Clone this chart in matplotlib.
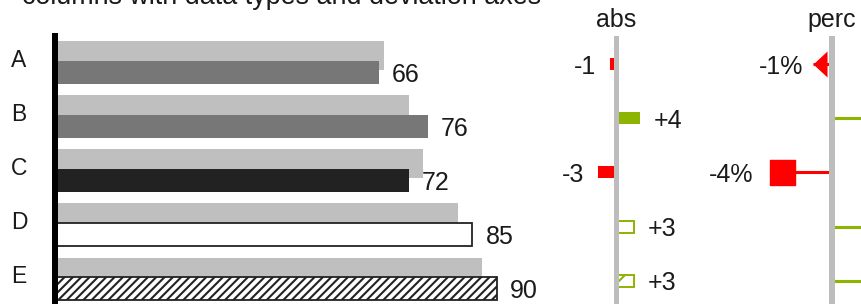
import matplotlib
matplotlib.use('Agg')
import matplotlib.pyplot as plt
import numpy as np
from matplotlib import transforms

categories = ['A', 'B', 'C', 'D', 'E']
previous = [67, 72, 75, 82, 87]
current = [66, 76, 72, 85, 90]
kinds = ['actual', 'actual', 'highlight', 'plan', 'forecast']
title = 'columns with data types and deviation axes'

plt.rcParams['font.family'] = ['Liberation Sans', 'DejaVu Sans']
plt.rcParams['hatch.linewidth'] = 1.5

W, H, DPI = 862, 304, 100
ROW_TOP, ROW_PITCH = 40.7, 54.2   # pixel layout of the rows
AX_TOP = 36
PT = 72.0 / DPI                   # points per pixel

GRAY_PREV = '#bfbfbf'
AXIS_GRAY = '#bdbdbd'
RED = '#ff0000'
GREEN = '#8cb400'
TEXT = '#1a1a1a'

main_style = {
    'actual': dict(color='#777777'),
    'highlight': dict(color='#222222'),
    'plan': dict(facecolor='white', edgecolor='#222222', linewidth=1.3),
    'forecast': dict(facecolor='white', edgecolor='#222222', linewidth=1.3, hatch='////'),
}


def dev_style(kind, color, hatch='/'):
    if kind == 'plan':
        return dict(facecolor='white', edgecolor=color, linewidth=1.4)
    if kind == 'forecast':
        return dict(facecolor='white', edgecolor=color, linewidth=1.4, hatch=hatch)
    return dict(color=color)


def py(p):
    return (p - ROW_TOP) / ROW_PITCH


fig = plt.figure(figsize=(W / DPI, H / DPI), dpi=DPI)
ax_h = (H - AX_TOP) / H


def make_ax(left_px, right_px, zero_px, px_per_unit):
    ax = fig.add_axes([left_px / W, 0, (right_px - left_px) / W, ax_h])
    ax.set_xlim((left_px - zero_px) / px_per_unit, (right_px - zero_px) / px_per_unit)
    ax.set_ylim(py(H), py(AX_TOP))
    ax.set_axis_off()
    return ax


y = np.arange(len(categories))
prev = np.array(previous, dtype=float)
cur = np.array(current, dtype=float)
dev = cur - prev
pct = dev / prev * 100

fig.text(22 / W, 1 - 4.5 / H, title, fontsize=19.4, color=TEXT, ha='left', va='baseline')

# main bars
ax = make_ax(55, 560, 55, 4.91)
ax.axvline(0, color='black', lw=6 * PT, zorder=5, clip_on=False)
ax.barh(y + 0.2675, prev, height=0.535, color=GRAY_PREV, zorder=1)
for i, kind in enumerate(kinds):
    ax.barh(y[i] + 0.581, cur[i], height=0.424, zorder=2, **main_style[kind])
    ax.annotate('{:.0f}'.format(cur[i]), xy=(cur[i], y[i] + 0.581), xytext=(9.4, 0),
                textcoords='offset points', ha='left', va='center_baseline',
                fontsize=18, color=TEXT)
lab_tr = transforms.blended_transform_factory(fig.transFigure, ax.transData)
for i, name in enumerate(categories):
    ax.text(19 / W, y[i] + 0.31, name, transform=lab_tr, ha='center',
            va='center_baseline', fontsize=16.5, color=TEXT)

# absolute deviation
ax2 = make_ax(560, 720, 616, 6.0)
ax2.axvline(0, color=AXIS_GRAY, lw=5 * PT, zorder=5)
ax2.annotate('abs', xy=(0, 1), xycoords=('data', 'axes fraction'), xytext=(0, 6.5),
             textcoords='offset points', ha='center', va='baseline', fontsize=18, color=TEXT)
for i, kind in enumerate(kinds):
    c = GREEN if dev[i] > 0 else RED
    ax2.barh(y[i] + 0.43, dev[i], height=0.22, zorder=2, **dev_style(kind, c))
    side = 1 if dev[i] > 0 else -1
    ax2.annotate('{:+.0f}'.format(dev[i]), xy=(dev[i], y[i] + 0.43), xytext=(side * 10, 0),
                 textcoords='offset points', ha='left' if side > 0 else 'right',
                 va='center_baseline', fontsize=18, color=TEXT)

# percentage deviation (the picture is cut at the right edge)
ax3 = make_ax(720, W, 832, 12.6)
ax3.axvline(0, color=AXIS_GRAY, lw=6 * PT, zorder=5)
ax3.annotate('perc', xy=(0, 1), xycoords=('data', 'axes fraction'), xytext=(0, 6.5),
             textcoords='offset points', ha='center', va='baseline', fontsize=18, color=TEXT)
x_right = ax3.get_xlim()[1]
for i, kind in enumerate(kinds):
    c = GREEN if pct[i] > 0 else RED
    side = 1 if pct[i] > 0 else -1
    yy = y[i] + 0.43
    ax3.hlines(yy, 0, pct[i], colors=c, lw=2.2, zorder=2)
    if abs(pct[i]) < 2:
        tri = [(0, 0), (-side * 1.077, 1), (-side * 1.077, -1)]
        ax3.scatter([pct[i]], [yy], marker=tri, s=20.2 ** 2, color=c, lw=0, zorder=3)
        off = 10
    else:
        st = dev_style(kind, c, hatch='//')
        if 'color' in st:
            st = dict(facecolor=c, edgecolor=c)
        ax3.scatter([pct[i]], [yy], marker='s', s=18 ** 2, zorder=3, **st)
        off = 28.5
    if pct[i] < x_right:
        ax3.annotate('{:+.0f}%'.format(pct[i]), xy=(pct[i], yy), xytext=(side * off * PT, 0),
                     textcoords='offset points', ha='left' if side > 0 else 'right',
                     va='center_baseline', fontsize=18, color=TEXT)

fig.savefig('out.png', dpi=DPI)
